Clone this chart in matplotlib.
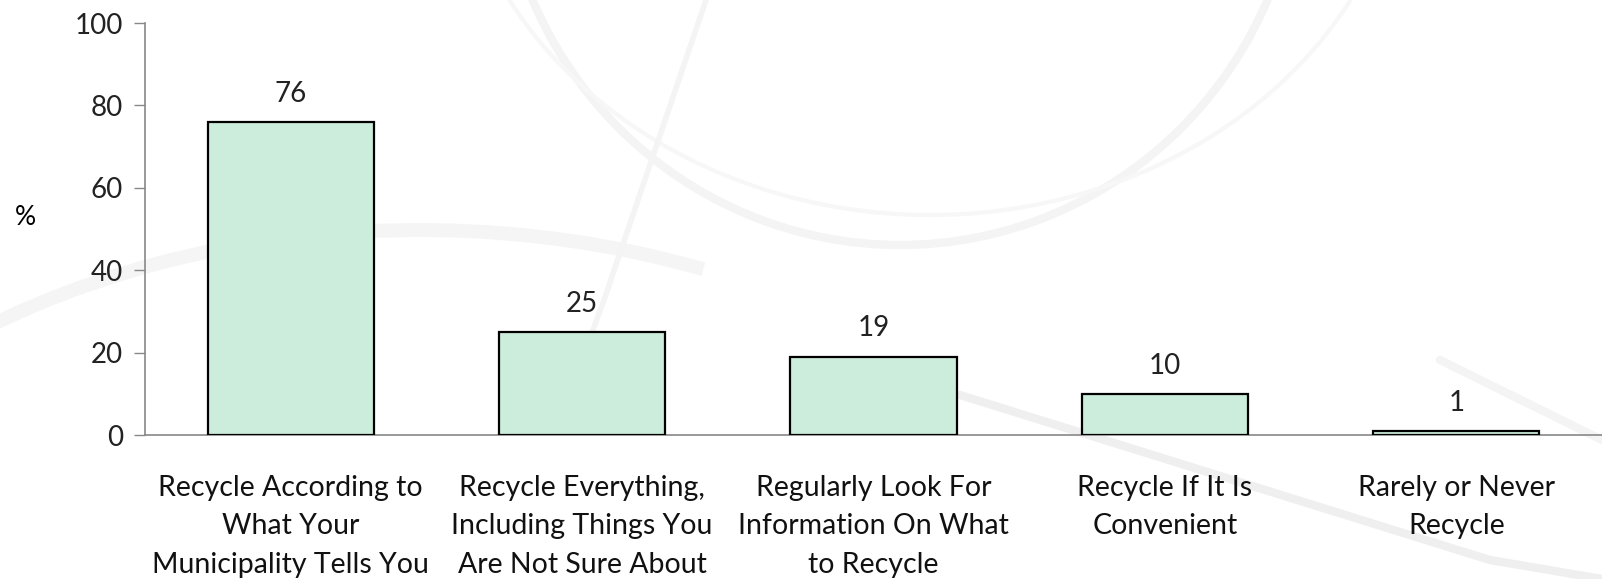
import numpy as np
import matplotlib
matplotlib.use("Agg")
from matplotlib import pyplot as plt
from matplotlib.patches import Arc

# Данные
categories = [
    "Recycle According to\nWhat Your\nMunicipality Tells You",
    "Recycle Everything,\nIncluding Things You\nAre Not Sure About",
    "Regularly Look For\nInformation On What\nto Recycle",
    "Recycle If It Is\nConvenient",
    "Rarely or Never\nRecycle",
]
values = [76, 25, 19, 10, 1]
y_ticks = [0, 20, 40, 60, 80, 100]

plt.rcParams['font.family'] = ['Lato', 'DejaVu Sans']

fig = plt.figure(figsize=(16.02, 5.79), dpi=100)
fig.patch.set_facecolor('white')

# Фоновые завитки (очень бледные)
bg = fig.add_axes([0, 0, 1, 1], zorder=0)
bg.set_xlim(0, 1602)
bg.set_ylim(579, 0)
bg.axis('off')
bg.add_patch(Arc((900, -160), 800, 810, theta1=0, theta2=180, color='#f4f4f4', lw=6))
bg.add_patch(Arc((930, -200), 960, 830, theta1=15, theta2=175, color='#f7f7f7', lw=3))
bg.add_patch(Arc((420, 760), 1500, 1060, theta1=200, theta2=300, color='#f5f5f5', lw=10))
bg.plot([706, 604, 560], [0, 300, 420], color='#f4f4f4', lw=4)
bg.plot([960, 1490, 1602], [395, 560, 579], color='#efefef', lw=6, solid_capstyle='round')
bg.plot([1440, 1602], [360, 440], color='#f4f4f4', lw=6, solid_capstyle='round')

ax = fig.add_axes([145 / 1602, 1 - 435 / 579, 1 - 145 / 1602, (435 - 23) / 579], zorder=1)
ax.patch.set_alpha(0)

x = np.arange(len(categories))
ax.bar(x, values, width=0.57, color='#ccecdc', edgecolor='black', linewidth=1.6, zorder=3)

for xi, v in zip(x, values):
    ax.text(xi, v + 3.7, str(v), ha='center', va='bottom', fontsize=20, color='#222222')

ax.set_xlim(-0.5, 4.5)
ax.set_ylim(0, 100)
ax.set_yticks(y_ticks)
ax.set_xticks(x)
ax.set_xticklabels(categories, fontsize=20.5, linespacing=1.58, color='#111111')
ax.tick_params(axis='x', length=0, pad=29)
ax.tick_params(axis='y', length=8, width=1, color='#888888', labelsize=20, pad=8,
               labelcolor='#222222')

for s in ['top', 'right']:
    ax.spines[s].set_visible(False)
for s in ['left', 'bottom']:
    ax.spines[s].set_color('#888888')
    ax.spines[s].set_linewidth(1.2)

fig.text(25 / 1602, 1 - 218 / 579, '%', fontsize=19, ha='center', va='center')

plt.savefig('out.png', dpi=100)
